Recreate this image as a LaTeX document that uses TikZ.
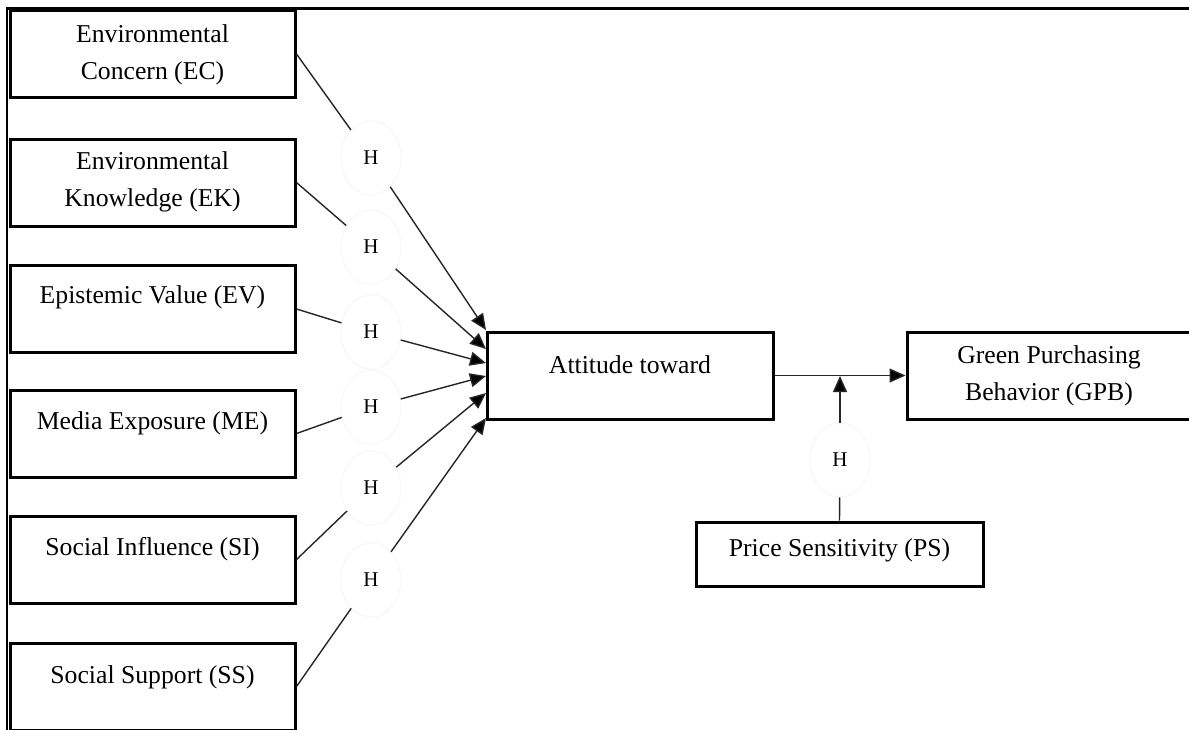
\documentclass[tikz,border=0pt]{standalone}
\usepackage{fontspec}
\setmainfont{Liberation Serif}
\usetikzlibrary{shapes.geometric,arrows.meta}
\begin{document}
\begin{tikzpicture}[x=1pt,y=-1pt,
  box/.style={draw, line width=3pt, minimum width=285pt, minimum height=87pt, inner sep=0pt},
  lbl/.style={font=\fontsize{25.7}{37}\selectfont, align=center, inner sep=0pt},
  hyp/.style={ellipse, draw=black!4, line width=0.8pt, minimum width=60pt, minimum height=74pt, inner sep=0pt, font=\fontsize{21}{25}\selectfont},
  conn/.style={line width=1.4pt, draw=black!85},
  arr/.style={line width=1.4pt, draw=black!85, -{Triangle[length=16pt,width=14pt,fill=black]}}]
\useasboundingbox (0,0) rectangle (1189,729);
\clip (0,0) rectangle (1189,729);
\fill[white] (0,0) rectangle (1189,729);
% frame
\draw[line width=2.6pt] (7,731) -- (7,8.5) -- (1191,8.5);
% left boxes
\node[box] (ec) at (152.5,54) {};
\node[box] (ek) at (152.5,182.5) {};
\node[box] (ev) at (152.5,309) {};
\node[box] (me) at (152.5,433.5) {};
\node[box] (si) at (152.5,559.5) {};
\node[box] (ss) at (152.5,686.5) {};
\node[lbl] (ecT) at (152.5,55) {Environmental\\Concern (EC)};
\node[lbl] (ekT) at (152.5,181.5) {Environmental\\Knowledge (EK)};
\node[lbl] (evT) at (152.5,297) {Epistemic Value (EV)};
\node[lbl] (meT) at (152.5,423) {Media Exposure (ME)};
\node[lbl] (siT) at (152.5,549) {Social Influence (SI)};
\node[lbl] (ssT) at (152.5,677) {Social Support (SS)};
% right boxes
\node[box, minimum width=286pt] (att) at (630,375.5) {};
\node[lbl] (attT) at (630,365) {Attitude toward};
\node[box, minimum width=286pt] (gpb) at (1050,375.5) {};
\node[lbl] (gpbT) at (1049,376) {Green Purchasing\\Behavior (GPB)};
\node[box, minimum width=287pt, minimum height=64pt] (ps) at (839.5,554) {};
\node[lbl] (psT) at (839.5,550) {Price Sensitivity (PS)};
% hypothesis circles
\node[hyp] (h1) at (371,158) {H};
\node[hyp] (h2) at (371,247) {H};
\node[hyp] (h3) at (371,332) {H};
\node[hyp] (h4) at (371,407) {H};
\node[hyp] (h5) at (371,488) {H};
\node[hyp] (h6) at (371,580) {H};
\node[hyp] (h7) at (840,460) {H};
% arrow targets
\coordinate (t1) at (486,330);
\coordinate (t2) at (486,349);
\coordinate (t3) at (486,363);
\coordinate (t4) at (486,376);
\coordinate (t5) at (486,393);
\coordinate (t6) at (486,418);
\coordinate (mod) at (840,376);
% connectors
\draw[conn] (ec.east) -- (h1);
\draw[conn] (ek.east) -- (h2);
\draw[conn] (ev.east) -- (h3);
\draw[conn] (me.east) -- (h4);
\draw[conn] (si.east) -- (h5);
\draw[conn] (ss.east) -- (h6);
\draw[arr] (h1) -- (t1);
\draw[arr] (h2) -- (t2);
\draw[arr] (h3) -- (t3);
\draw[arr] (h4) -- (t4);
\draw[arr] (h5) -- (t5);
\draw[arr] (h6) -- (t6);
\draw[arr] (att.east) -- (gpb.west);
\draw[arr] (h7) -- (mod);
\draw[conn] (ps.north) -- (h7);
\end{tikzpicture}
\end{document}
